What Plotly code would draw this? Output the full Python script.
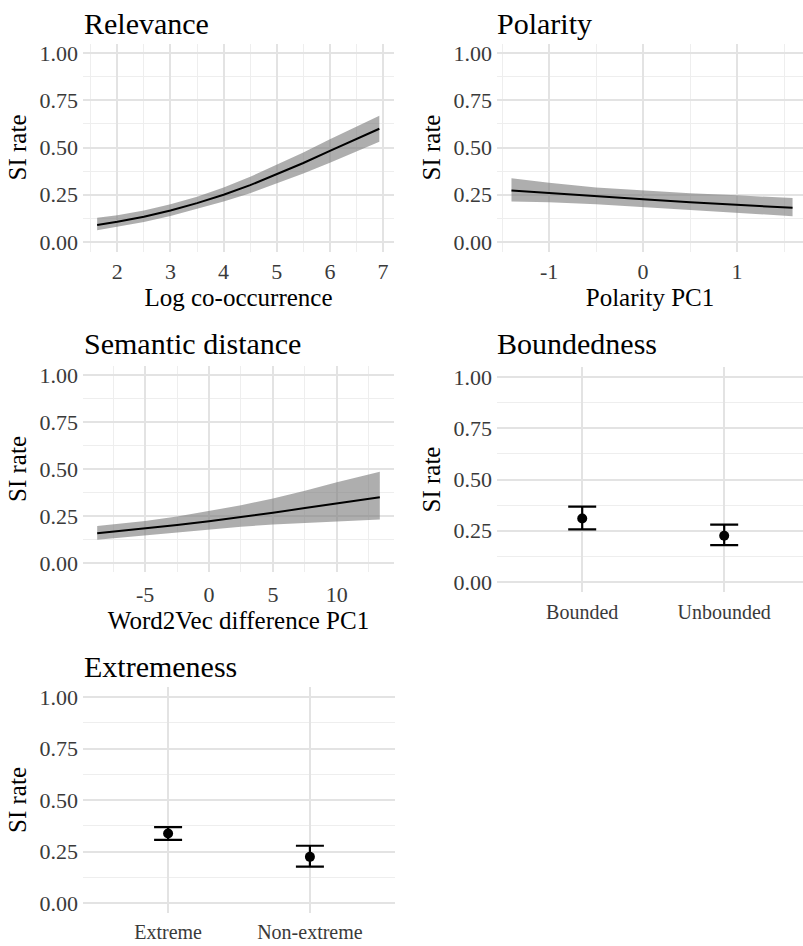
import plotly.graph_objects as go

# ---------------- data ----------------
rel_x = [1.62, 2.0, 2.5, 3.0, 3.5, 4.0, 4.5, 5.0, 5.5, 6.0, 6.5, 6.93]
rel_mean = [0.090, 0.107, 0.134, 0.167, 0.206, 0.250, 0.301, 0.358, 0.418, 0.482, 0.545, 0.599]
rel_lo = [0.063, 0.080, 0.106, 0.138, 0.175, 0.214, 0.258, 0.308, 0.362, 0.420, 0.478, 0.530]
rel_hi = [0.128, 0.142, 0.167, 0.200, 0.240, 0.288, 0.345, 0.408, 0.474, 0.543, 0.610, 0.668]

pol_x = [-1.40, -1.0, -0.5, 0.0, 0.5, 1.0, 1.59]
pol_mean = [0.272, 0.258, 0.242, 0.226, 0.211, 0.197, 0.181]
pol_lo = [0.214, 0.210, 0.200, 0.186, 0.170, 0.155, 0.137]
pol_hi = [0.338, 0.313, 0.288, 0.271, 0.258, 0.247, 0.233]

sem_x = [-8.75, -5.0, -2.5, 0.0, 2.5, 5.0, 7.5, 10.0, 13.36]
sem_mean = [0.158, 0.183, 0.202, 0.222, 0.244, 0.267, 0.292, 0.317, 0.350]
sem_lo = [0.124, 0.148, 0.165, 0.178, 0.193, 0.205, 0.215, 0.222, 0.232]
sem_hi = [0.197, 0.223, 0.247, 0.276, 0.307, 0.343, 0.384, 0.430, 0.485]

bnd_cat = ["Bounded", "Unbounded"]
bnd_mean = [0.310, 0.226]
bnd_lo = [0.257, 0.180]
bnd_hi = [0.368, 0.280]

ext_cat = ["Extreme", "Non-extreme"]
ext_mean = [0.337, 0.224]
ext_lo = [0.306, 0.177]
ext_hi = [0.368, 0.278]

y_ticks = [0, 0.25, 0.5, 0.75, 1.0]
y_ticklabels = ["0.00", "0.25", "0.50", "0.75", "1.00"]
y_minor = [0.125, 0.375, 0.625, 0.875]

rel_ticks = [2, 3, 4, 5, 6, 7]
rel_ticklabels = ["2", "3", "4", "5", "6", "7"]
rel_minor = [1.5, 2.5, 3.5, 4.5, 5.5, 6.5]
pol_ticks = [-1, 0, 1]
pol_ticklabels = ["-1", "0", "1"]
pol_minor = [-1.5, -0.5, 0.5, 1.5]
sem_ticks = [-5, 0, 5, 10]
sem_ticklabels = ["-5", "0", "5", "10"]
sem_minor = [-7.5, -2.5, 2.5, 7.5, 12.5]

titles = ["Relevance", "Polarity", "Semantic distance", "Boundedness", "Extremeness"]
x_titles = ["Log co-occurrence", "Polarity PC1", "Word2Vec difference PC1", None, None]
y_title = "SI rate"

# ---------------- style ----------------
FONT = "Liberation Serif, Times New Roman, serif"
GRID = "#E3E3E3"
GRID_MINOR = "#EEEEEE"
BAND = "rgba(120,120,120,0.6)"
TICKCOL = "#3a3a3a"
W, H = 803, 946

def px_x(a, b):
    return [a / W, min(b / W, 1.0)]

def px_y(top, bottom):
    return [1 - bottom / H, 1 - top / H]

panels = [
    dict(xd=px_x(83, 394), yd=px_y(43.5, 251.5), xr=[1.354, 7.206],
         tv=rel_ticks, tt=rel_ticklabels, mv=rel_minor, so=4),
    dict(xd=px_x(497, 803), yd=px_y(43.5, 251.5), xr=[-1.554, 1.701],
         tv=pol_ticks, tt=pol_ticklabels, mv=pol_minor, so=4),
    dict(xd=px_x(83, 394), yd=px_y(365.6, 572.4), xr=[-9.86, 14.47],
         tv=sem_ticks, tt=sem_ticklabels, mv=sem_minor, so=7),
    dict(xd=px_x(497, 803), yd=px_y(366.75, 592.25), xr=[-0.6, 1.555], cat=True, so=6),
    dict(xd=px_x(83, 395), yd=px_y(686.7, 913.3), xr=[-0.6, 1.6], cat=True, so=5),
]

fig = go.Figure()

def add_band(i, xs, lo, hi, mean):
    ax = "" if i == 0 else str(i + 1)
    fig.add_trace(go.Scatter(x=xs + xs[::-1], y=hi + lo[::-1], fill="toself",
                             fillcolor=BAND, line=dict(width=0), mode="lines",
                             hoverinfo="skip", showlegend=False,
                             xaxis="x" + ax, yaxis="y" + ax))
    fig.add_trace(go.Scatter(x=xs, y=mean, mode="lines", line=dict(color="black", width=2),
                             showlegend=False, xaxis="x" + ax, yaxis="y" + ax))

def add_err(i, cats, mean, lo, hi):
    ax = str(i + 1)
    fig.add_trace(go.Scatter(
        x=cats, y=mean, mode="markers",
        marker=dict(color="black", size=10),
        error_y=dict(type="data", symmetric=False,
                     array=[h - m for h, m in zip(hi, mean)],
                     arrayminus=[m - l for m, l in zip(mean, lo)],
                     color="black", thickness=2.2, width=14),
        showlegend=False, xaxis="x" + ax, yaxis="y" + ax))

add_band(0, rel_x, rel_lo, rel_hi, rel_mean)
add_band(1, pol_x, pol_lo, pol_hi, pol_mean)
add_band(2, sem_x, sem_lo, sem_hi, sem_mean)
add_err(3, bnd_cat, bnd_mean, bnd_lo, bnd_hi)
add_err(4, ext_cat, ext_mean, ext_lo, ext_hi)

layout = dict(width=W, height=H, margin=dict(l=0, r=0, t=0, b=0, autoexpand=False),
              paper_bgcolor="white", plot_bgcolor="white",
              font=dict(family=FONT, color="black"), showlegend=False)

for i, p in enumerate(panels):
    sx = "xaxis" if i == 0 else "xaxis%d" % (i + 1)
    sy = "yaxis" if i == 0 else "yaxis%d" % (i + 1)
    xa = dict(domain=p["xd"], range=p["xr"], anchor="y" if i == 0 else "y%d" % (i + 1),
              showline=False, zeroline=False, ticks="", showgrid=True,
              gridcolor=GRID, gridwidth=2, tickfont=dict(size=22, color=TICKCOL, family=FONT),
              ticklabelstandoff=p["so"], fixedrange=True)
    if p.get("cat"):
        xa.update(type="category", tickfont=dict(size=20, color=TICKCOL, family=FONT))
    else:
        xa.update(tickmode="array", tickvals=p["tv"], ticktext=p["tt"],
                  minor=dict(tickvals=p["mv"], showgrid=True,
                             gridcolor=GRID_MINOR, gridwidth=1, ticks=""))
    if x_titles[i]:
        xa.update(title=dict(text=x_titles[i], font=dict(size=25, family=FONT, color="black"),
                             standoff=0))
    ya = dict(domain=p["yd"], range=[-0.05, 1.05], anchor="x" if i == 0 else "x%d" % (i + 1),
              showline=False, zeroline=False, ticks="",
              tickmode="array", tickvals=y_ticks, ticktext=y_ticklabels,
              showgrid=True, gridcolor=GRID, gridwidth=2,
              minor=dict(tickvals=y_minor, showgrid=True,
                         gridcolor=GRID_MINOR, gridwidth=1, ticks=""),
              tickfont=dict(size=22, color=TICKCOL, family=FONT),
              ticklabelstandoff=4, fixedrange=True,
              title=dict(text=y_title, font=dict(size=25, family=FONT, color="black"),
                         standoff=5))
    layout[sx] = xa
    layout[sy] = ya

fig.update_layout(**layout)

title_pos = [(82, 23), (495, 23), (82, 343), (495, 343), (82, 666)]
for t, (tx, ty) in zip(titles, title_pos):
    fig.add_annotation(text=t, x=tx / W, y=1 - ty / H, xref="paper", yref="paper",
                       xanchor="left", yanchor="middle", showarrow=False,
                       font=dict(size=30, family=FONT, color="black"))

fig.write_html("out.html", config={"displayModeBar": False},
               post_script="document.body.style.margin='0';document.body.style.overflow='hidden';")
